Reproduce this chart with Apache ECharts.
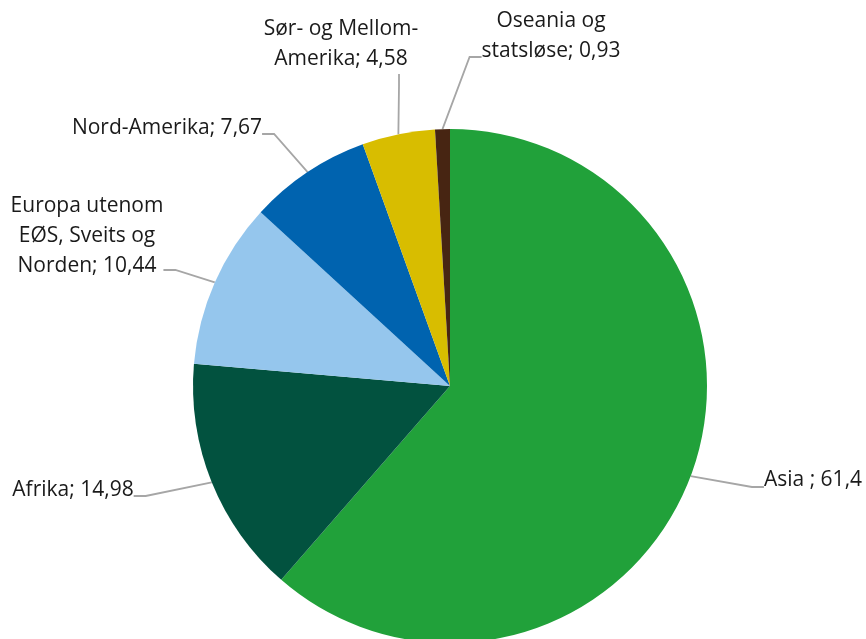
<!DOCTYPE html>
<html>
<head>
<meta charset="utf-8">
<script src="https://cdn.jsdelivr.net/npm/echarts@6/dist/echarts.min.js"></script>
<style>
  html, body { margin: 0; padding: 0; background: #fff; }
  #chart { width: 866px; height: 639px; }
</style>
</head>
<body>
<div id="chart"></div>
<script>
// regioner og andeler (prosent)
const regions = [
  'Asia ',
  'Afrika',
  'Europa utenom\nEØS, Sveits og\nNorden',
  'Nord-Amerika',
  'Sør- og Mellom-\nAmerika',
  'Oseania og\nstatsløse'
]
const shares = [61.4, 14.98, 10.44, 7.67, 4.58, 0.93]
const colors = ['#21a13a', '#02523f', '#95c6ed', '#0063af', '#d8bd00', '#472512']

// plassering av etikettene (festepunkt for linjen)
const labelX = [813, 73, 87, 167, 399, 551]
const labelY = [487, 496, 270, 134, 44, 57]
// tom linje under teksten og polstring til høyre flytter festepunktet
const spacerH = [14, 12, 68, 12, 0, 41]
const padRight = [0, 0, 0, 0, 116, 0]

const chart = echarts.init(document.getElementById('chart'), null, { renderer: 'canvas' })

const fmt = v => String(v).replace('.', ',')

chart.setOption({
  animation: false,
  series: [{
    type: 'pie',
    center: [450, 386],
    radius: 257,
    startAngle: 90,
    clockwise: true,
    avoidLabelOverlap: false,
    data: regions.map((name, i) => ({
      name,
      value: shares[i],
      itemStyle: { color: colors[i] },
      label: {
        padding: [0, padRight[i], 0, 0],
        rich: { sp: { fontSize: 1, lineHeight: spacerH[i] } }
      }
    })),
    label: {
      show: true,
      formatter: p => p.name + '; ' + fmt(p.value) + (spacerH[p.dataIndex] ? '\n{sp| }' : ''),
      fontFamily: 'Open Sans',
      fontSize: 21,
      lineHeight: 30,
      color: '#1a1a1a',
      align: 'center',
      backgroundColor: 'rgba(255,255,255,0)'
    },
    labelLine: {
      show: true,
      length: 10,
      length2: 12,
      smooth: false,
      lineStyle: { color: '#a6a6a6', width: 1.8 }
    },
    labelLayout: p => ({
      x: labelX[p.dataIndex],
      y: labelY[p.dataIndex],
      align: 'center',
      verticalAlign: 'middle'
    })
  }]
})
</script>
</body>
</html>
